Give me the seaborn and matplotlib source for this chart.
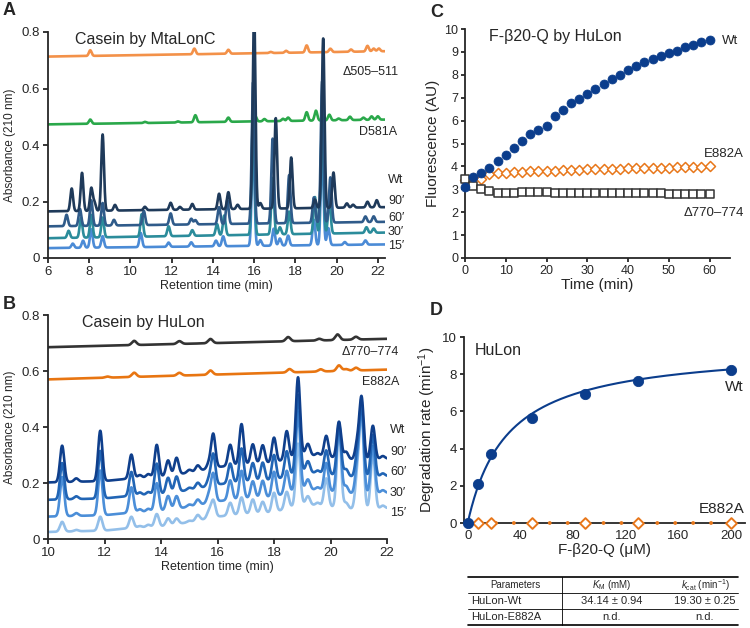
import numpy as np
import matplotlib
matplotlib.use("Agg")
import matplotlib.pyplot as plt
import seaborn as sns
from matplotlib.lines import Line2D

sns.set_style("ticks")
plt.rcParams['font.family'] = ['Liberation Sans', 'DejaVu Sans']
plt.rcParams['mathtext.fontset'] = 'custom'
plt.rcParams['mathtext.rm'] = 'Liberation Sans'
plt.rcParams['mathtext.it'] = 'Liberation Sans:italic'
plt.rcParams['axes.linewidth'] = 1.3

""" panel A : casein by MtaLonC, peaks read off the chromatograms (time, height above baseline) """
a_base_d505 = (0.713, 0.732)
a_peaks_d505 = [(8.05, 0.02), (13.1, 0.02), (14.75, 0.014), (16.8, 0.004), (17.55, 0.007),
                (18.55, 0.025), (19.7, 0.012), (20.7, 0.008), (21.5, 0.02), (21.8, 0.01), (22.05, 0.01)]
a_base_d581 = (0.473, 0.49)
a_peaks_d581 = [(8.05, 0.015), (10.7, 0.004), (12.3, 0.004), (13.15, 0.025), (14.75, 0.015),
                (16.05, 0.02), (16.5, 0.008), (17.4, 0.008), (17.65, 0.012), (18.55, 0.03),
                (19.0, 0.035), (19.65, 0.02), (20.1, 0.006), (20.65, 0.012), (21.3, 0.008),
                (21.7, 0.012), (22.0, 0.012)]
a_base_90 = (0.165, 0.18)
a_peaks_90 = [(7.15, 0.08), (7.65, 0.135), (8.1, 0.08), (8.25, 0.03), (8.65, 0.27), (9.25, 0.02),
              (10.7, 0.012), (11.95, 0.025), (12.4, 0.01), (13.0, 0.02), (14.3, 0.055),
              (14.75, 0.06), (15.2, 0.015), (16.0, 0.7), (16.3, 0.02), (17.05, 0.32), (17.8, 0.18),
              (18.95, 0.03), (19.35, 0.6), (19.85, 0.125), (20.5, 0.015), (20.8, 0.01),
              (21.5, 0.02), (21.95, 0.025)]
a_base_60 = (0.112, 0.128)
a_peaks_60 = [(6.9, 0.04), (7.55, 0.06), (8.1, 0.09), (8.65, 0.08), (9.2, 0.02), (10.65, 0.05),
              (11.95, 0.04), (12.95, 0.02), (13.15, 0.015), (14.3, 0.06), (14.7, 0.085),
              (15.95, 0.5), (16.9, 0.3), (17.7, 0.17), (18.9, 0.09), (19.3, 0.5), (19.7, 0.16),
              (21.4, 0.02), (21.8, 0.02)]
a_base_30 = (0.07, 0.09)
a_peaks_30 = [(7.0, 0.025), (7.6, 0.07), (8.1, 0.08), (8.65, 0.07), (10.55, 0.08), (11.85, 0.035),
              (13.0, 0.02), (14.2, 0.04), (14.55, 0.07), (15.95, 0.42), (16.9, 0.2), (17.25, 0.025),
              (17.7, 0.08), (18.95, 0.13), (19.3, 0.42), (19.65, 0.12), (21.45, 0.02), (21.8, 0.015)]
a_base_15 = (0.035, 0.048)
a_peaks_15 = [(7.2, 0.015), (7.7, 0.025), (8.1, 0.065), (8.65, 0.04), (10.5, 0.05), (11.85, 0.015),
              (12.95, 0.015), (14.15, 0.02), (14.5, 0.035), (15.95, 0.38), (16.3, 0.02),
              (16.95, 0.06), (17.25, 0.025), (17.65, 0.035), (18.9, 0.09), (19.3, 0.35),
              (19.6, 0.06), (20.4, 0.01), (21.4, 0.015)]

""" panel B : casein by HuLon """
b_base_d770 = (0.685, 0.715)
b_peaks_d770 = [(13.05, 0.015), (14.65, 0.01), (15.75, 0.015), (18.5, 0.015), (19.6, 0.006),
                (20.25, 0.02), (20.9, 0.01)]
b_base_e882 = (0.570, 0.605)
b_peaks_e882 = [(12.1, 0.004), (13.05, 0.015), (14.65, 0.01), (15.75, 0.015), (18.55, 0.012),
                (19.65, 0.008), (20.3, 0.02), (20.55, 0.006), (20.9, 0.01)]
b_knots = [10, 12, 13, 14, 15, 16, 17, 18, 19, 20, 21, 22]
b_drift = [0, 0.005, 0.015, 0.02, 0.035, 0.055, 0.065, 0.07, 0.1, 0.09, 0.08, 0.085]
b_offsets = {"90": 0.202, "60": 0.14, "30": 0.08, "15": 0.025}
b_times = [10.5, 11.0, 11.85, 12.95, 13.25, 13.55, 13.85, 14.25, 14.55, 15.0, 15.3, 15.7, 15.85,
           16.45, 16.85, 17.25, 17.6, 18.0, 18.45, 18.85, 19.2, 19.55, 19.85, 20.3, 20.55, 20.95,
           21.1, 21.5, 21.85]
b_h90 = [0.13, 0.012, 0.18, 0.085, 0.01, 0.012, 0.115, 0.055, 0.06, 0.01, 0.02, 0.02, 0.12, 0.075,
         0.145, 0.07, 0.065, 0.09, 0.1, 0.28, 0.04, 0.01, 0.075, 0.13, 0.025, 0.06, 0.22, 0.12, 0.01]
b_h60 = [0.13, 0.01, 0.17, 0.085, 0.01, 0.01, 0.11, 0.055, 0.055, 0.008, 0.02, 0.025, 0.11, 0.07,
         0.12, 0.065, 0.065, 0.09, 0.09, 0.28, 0.04, 0.01, 0.085, 0.18, 0.025, 0.08, 0.25, 0.15, 0.01]
b_h30 = [0.14, 0.01, 0.16, 0.09, 0.01, 0.01, 0.1, 0.05, 0.045, 0.008, 0.02, 0.03, 0.1, 0.07, 0.1,
         0.06, 0.06, 0.09, 0.08, 0.28, 0.035, 0.01, 0.1, 0.25, 0.025, 0.1, 0.3, 0.17, 0.01]
b_h15 = [0.035, 0.005, 0.05, 0.04, 0.005, 0.008, 0.045, 0.025, 0.02, 0.005, 0.02, 0.025, 0.06,
         0.045, 0.06, 0.05, 0.04, 0.07, 0.06, 0.22, 0.03, 0.01, 0.1, 0.28, 0.02, 0.12, 0.33, 0.2, 0.01]

""" panel C : F-b20-Q fluorescence """
c_time = list(range(0, 61, 2))
c_wt = [3.1, 3.55, 3.7, 3.95, 4.25, 4.5, 4.8, 5.1, 5.4, 5.6, 5.75, 6.2, 6.45, 6.75, 6.95, 7.15,
        7.4, 7.6, 7.8, 8.0, 8.2, 8.4, 8.55, 8.7, 8.8, 8.95, 9.05, 9.2, 9.3, 9.45, 9.5]
c_e882a = [3.4, 3.5, 3.45, 3.65, 3.7, 3.72, 3.75, 3.77, 3.78, 3.8, 3.8, 3.82, 3.84, 3.85, 3.86,
           3.87, 3.88, 3.88, 3.9, 3.9, 3.92, 3.92, 3.93, 3.94, 3.95, 3.95, 3.96, 3.97, 3.98, 3.98, 4.0]
c_d770 = [3.45, 3.15, 3.0, 2.92, 2.85, 2.86, 2.86, 2.87, 2.88, 2.87, 2.87, 2.86, 2.85, 2.85, 2.85,
          2.86, 2.85, 2.84, 2.84, 2.84, 2.83, 2.83, 2.82, 2.82, 2.82, 2.81, 2.81, 2.81, 2.81, 2.81, 2.8]

""" panel D : degradation rate """
d_conc = [0, 8, 18, 49, 89, 129, 200]
d_wt = [0, 2.1, 3.7, 5.65, 6.95, 7.65, 8.25]
d_conc_e882a = [8, 18, 49, 89, 129, 200]
d_e882a = [0, 0, 0, 0, 0, 0]
d_fit_vmax = 9.5
d_fit_km = 30.0

table_header = ["Parameters", r"$K_{\rm M}$ (mM)", r"$k_{\rm cat}$ (min$^{-1}$)"]
table_rows = [["HuLon-Wt", "34.14 ± 0.94", "19.30 ± 0.25"],
              ["HuLon-E882A", "n.d.", "n.d."]]

W, H = 750, 628
def rect(l, t, r, b):
    return [l / W, 1 - b / H, (r - l) / W, (b - t) / H]
def fx(x):
    return x / W
def fy(y):
    return 1 - y / H

def chrom(t, base, peaks, sigma):
    y = np.interp(t, [t[0], t[-1]], base) if len(base) == 2 else base.copy()
    for pt, ph in peaks:
        y = y + ph * np.exp(-0.5 * ((t - pt) / sigma) ** 2)
    return y

fig = plt.figure(figsize=(7.5, 6.28), dpi=100)

# ---------- A
axA = fig.add_axes(rect(48, 32, 385, 258))
tA = np.linspace(6, 22.35, 3000)
a_series = [(a_base_d505, a_peaks_d505, "#f39149"), (a_base_d581, a_peaks_d581, "#2aa84a"),
            (a_base_15, a_peaks_15, "#4b8bd6"), (a_base_30, a_peaks_30, "#2b8c9b"),
            (a_base_60, a_peaks_60, "#2f5b8a"), (a_base_90, a_peaks_90, "#1f3a5a")]
for base, peaks, col in a_series:
    sns.lineplot(x=tA, y=chrom(tA, base, peaks, 0.065), ax=axA, color=col, lw=1.9)
axA.set_xlim(6, 22.35)
axA.set_ylim(0, 0.8)
axA.set_xticks(range(6, 23, 2))
axA.set_yticks([0, 0.2, 0.4, 0.6, 0.8])
axA.set_yticklabels(["0", "0.2", "0.4", "0.6", "0.8"])
axA.set_xlabel("Retention time (min)", fontsize=9, labelpad=2)
axA.set_ylabel("Absorbance (210 nm)", fontsize=8.5, labelpad=4)
axA.tick_params(labelsize=9.5, length=3.5, width=1.3, pad=2)
axA.text(0.08, 1.0, "Casein by MtaLonC", transform=axA.transAxes, fontsize=11.5, va="top")

# ---------- B
axB = fig.add_axes(rect(48, 315, 387, 539))
tB = np.linspace(10, 22, 3000)
drift = np.interp(tB, b_knots, b_drift)
sns.lineplot(x=tB, y=chrom(tB, b_base_d770, b_peaks_d770, 0.08), ax=axB, color="#333333", lw=1.9)
sns.lineplot(x=tB, y=chrom(tB, b_base_e882, b_peaks_e882, 0.08), ax=axB, color="#e87511", lw=1.9)
for key, hts, col in [("15", b_h15, "#93bfe9"), ("30", b_h30, "#4b8ed8"),
                      ("60", b_h60, "#2165b5"), ("90", b_h90, "#0f3f8c")]:
    yb = chrom(tB, drift + b_offsets[key], list(zip(b_times, hts)), 0.075)
    sns.lineplot(x=tB, y=yb, ax=axB, color=col, lw=1.9)
axB.set_xlim(10, 22)
axB.set_ylim(0, 0.8)
axB.set_xticks(range(10, 23, 2))
axB.set_yticks([0, 0.2, 0.4, 0.6, 0.8])
axB.set_yticklabels(["0", "0.2", "0.4", "0.6", "0.8"])
axB.set_xlabel("Retention time (min)", fontsize=9, labelpad=2)
axB.set_ylabel("Absorbance (210 nm)", fontsize=8.5, labelpad=4)
axB.tick_params(labelsize=9.5, length=3.5, width=1.3, pad=2)
axB.text(0.1, 1.0, "Casein by HuLon", transform=axB.transAxes, fontsize=11.5, va="top")

# ---------- C
axC = fig.add_axes(rect(465, 29, 730, 258))
sns.scatterplot(x=c_time, y=c_e882a, ax=axC, marker="D", s=26, facecolor="white",
                edgecolor="#e8771a", linewidth=1.1, zorder=3, clip_on=False)
sns.scatterplot(x=c_time, y=c_d770, ax=axC, marker="s", s=36, facecolor="white",
                edgecolor="#333333", linewidth=1.1, zorder=4, clip_on=False)
sns.scatterplot(x=c_time, y=c_wt, ax=axC, marker="o", s=42, color="#0b3d8c",
                edgecolor="#0b3d8c", linewidth=0.5, zorder=5, clip_on=False)
axC.set_xlim(0, 65)
axC.set_ylim(0, 10)
axC.set_xticks(range(0, 61, 10))
axC.set_yticks(range(0, 11))
axC.set_xlabel("Time (min)", fontsize=11, labelpad=1)
axC.set_ylabel("Fluorescence (AU)", fontsize=11, labelpad=3)
axC.tick_params(labelsize=9, length=3, width=1.3, pad=2)
axC.text(0.09, 1.0, "F-β20-Q by HuLon", transform=axC.transAxes, fontsize=11.5, va="top")

# ---------- D
axD = fig.add_axes(rect(464, 337, 745, 523))
s_fit = np.linspace(0, 200, 400)
sns.lineplot(x=s_fit, y=d_fit_vmax * s_fit / (d_fit_km + s_fit), ax=axD, color="#0b3d8c", lw=1.5)
axD.plot([8, 200], [0, 0], color="#e8771a", lw=2.8, linestyle=(0, (0.01, 4.6)),
         dash_capstyle="round", zorder=3, clip_on=False)
sns.scatterplot(x=d_conc, y=d_wt, ax=axD, marker="o", s=55, color="#0b3d8c",
                edgecolor="#0b3d8c", zorder=5, clip_on=False)
sns.scatterplot(x=d_conc_e882a, y=d_e882a, ax=axD, marker="D", s=30, facecolor="white",
                edgecolor="#e8771a", linewidth=1.4, zorder=4, clip_on=False)
axD.set_xlim(-2.8, 210.5)
axD.set_ylim(0, 10)
axD.set_xticks(range(0, 201, 40))
axD.set_yticks(range(0, 11, 2))
axD.set_xlabel("F-β20-Q (μM)", fontsize=11, labelpad=1)
axD.set_ylabel("Degradation rate (min$^{-1}$)", fontsize=11, labelpad=3)
axD.tick_params(axis="x", labelsize=9.5, length=0, pad=5)
axD.tick_params(axis="y", labelsize=9.5, length=3, width=1.3, pad=2)
axD.text(0.04, 0.97, "HuLon", transform=axD.transAxes, fontsize=11.5, va="top")

for ax in (axA, axB, axC, axD):
    sns.despine(ax=ax)
    ax.set_facecolor("none")

# ---------- labels next to the traces
fs = 9
fig.text(fx(399), fy(72), "Δ505–511", ha="right", va="center", fontsize=fs)
fig.text(fx(397), fy(132), "D581A", ha="right", va="center", fontsize=fs)
for txt, yy in [("Wt", 180), ("90′", 201), ("60′", 218), ("30′", 232), ("15′", 246)]:
    fig.text(fx(388), fy(yy), txt, ha="left", va="center", fontsize=fs)
fig.text(fx(399), fy(352), "Δ770–774", ha="right", va="center", fontsize=fs)
fig.text(fx(399), fy(382), "E882A", ha="right", va="center", fontsize=fs)
for txt, yy in [("Wt", 430), ("90′", 452), ("60′", 472), ("30′", 493), ("15′", 513)]:
    fig.text(fx(390), fy(yy), txt, ha="left", va="center", fontsize=fs)
fig.text(fx(722), fy(41), "Wt", ha="left", va="center", fontsize=9.5)
fig.text(fx(744), fy(154), "E882A", ha="right", va="center", fontsize=9.5)
fig.text(fx(744), fy(213), "Δ770–774", ha="right", va="center", fontsize=9.5)
fig.text(fx(744), fy(387), "Wt", ha="right", va="center", fontsize=11)
fig.text(fx(744), fy(509), "E882A", ha="right", va="center", fontsize=11)

for letter, xx, yy in [("A", 3, 2), ("B", 3, 296), ("C", 430, 4), ("D", 430, 302)]:
    fig.text(fx(xx), fy(yy), letter, fontsize=13, fontweight="bold", ha="left", va="top")

# ---------- table under D
tl, tr, tm = 468, 738, 562
for yy, lw in [(577, 1.2), (593, 0.6), (609, 0.6), (625, 1.2)]:
    fig.add_artist(Line2D([fx(tl), fx(tr)], [fy(yy), fy(yy)], color="black", lw=lw))
fig.add_artist(Line2D([fx(tm), fx(tm)], [fy(577), fy(625)], color="black", lw=0.6))
fig.text(fx(515), fy(585.5), table_header[0], ha="center", va="center", fontsize=7)
fig.text(fx(612), fy(585.5), table_header[1], ha="center", va="center", fontsize=7)
fig.text(fx(705), fy(585.5), table_header[2], ha="center", va="center", fontsize=7)
for row, yy in zip(table_rows, [601.5, 617.5]):
    fig.text(fx(471), fy(yy), row[0], ha="left", va="center", fontsize=8)
    fig.text(fx(612), fy(yy), row[1], ha="center", va="center", fontsize=8)
    fig.text(fx(705), fy(yy), row[2], ha="center", va="center", fontsize=8)

fig.savefig("out.png", dpi=100)
